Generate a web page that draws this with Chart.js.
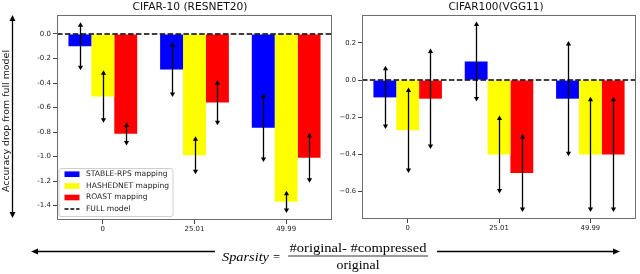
<!DOCTYPE html>
<html><head><meta charset="utf-8">
<script src="https://cdn.jsdelivr.net/npm/chart.js@4.4.1/dist/chart.umd.min.js"></script>
<style>
html,body{margin:0;padding:0;background:#fff;width:640px;height:274px;overflow:hidden}
#c1{position:absolute;left:0;top:0}
#c2{position:absolute;left:335px;top:0}
svg{position:absolute;left:0;top:0}
</style></head><body>
<canvas id="c1" width="335" height="240"></canvas>
<canvas id="c2" width="305" height="240"></canvas>
<svg width="640" height="274" xmlns="http://www.w3.org/2000/svg">
  <text x="190" y="10" text-anchor="middle" font-family="DejaVu Sans" font-size="10.5" fill="#111" textLength="115" lengthAdjust="spacingAndGlyphs">CIFAR-10 (RESNET20)</text>
  <text x="496" y="10" text-anchor="middle" font-family="DejaVu Sans" font-size="10.5" fill="#111" textLength="95" lengthAdjust="spacingAndGlyphs">CIFAR100(VGG11)</text>
  <text transform="translate(9,121) rotate(-90)" text-anchor="middle" font-family="DejaVu Sans" font-size="9.5" fill="#111" textLength="142" lengthAdjust="spacingAndGlyphs">Accuracy drop from full model</text>
  <line x1="12.5" y1="20" x2="12.5" y2="213" stroke="#000" stroke-width="1.3"/>
  <polygon points="12.5,15 9.5,21 15.5,21" fill="#000"/>
  <polygon points="12.5,218 9.5,212 15.5,212" fill="#000"/>
  <line x1="37" y1="251.5" x2="215" y2="251.5" stroke="#000" stroke-width="1.3"/>
  <polygon points="31,251.5 38,248.5 38,254.5" fill="#000"/>
  <line x1="437" y1="251.5" x2="614" y2="251.5" stroke="#000" stroke-width="1.3"/>
  <polygon points="620,251.5 613,248.5 613,254.5" fill="#000"/>
  <text x="222" y="261" font-family="Liberation Serif" font-size="12.5" font-style="italic" fill="#000" textLength="47" lengthAdjust="spacingAndGlyphs">Sparsity</text>
  <text x="273" y="261" font-family="Liberation Serif" font-size="12.5" fill="#000">=</text>
  <line x1="288" y1="256" x2="428" y2="256" stroke="#000" stroke-width="0.8"/>
  <text x="358" y="252" text-anchor="middle" font-family="Liberation Serif" font-size="11.5" fill="#000" textLength="137" lengthAdjust="spacingAndGlyphs">#original- #compressed</text>
  <text x="358" y="269" text-anchor="middle" font-family="Liberation Serif" font-size="11.5" fill="#000" textLength="43" lengthAdjust="spacingAndGlyphs">original</text>
</svg>
<script>
// ---- data ----
const sparsityLabels = ['0', '25.01', '49.99'];
const seriesNames = ['STABLE-RPS mapping', 'HASHEDNET mapping', 'ROAST mapping'];
const seriesColors = ['#0000ff', '#ffff00', '#ff0000'];
const refLineName = 'FULL model';

const c10Stable = [-0.10, -0.29, -0.765];
const c10StableErr = [0.195, 0.225, 0.28];
const c10Hashed = [-0.51, -0.99, -1.37];
const c10HashedErr = [0.215, 0.155, 0.09];
const c10Roast = [-0.815, -0.56, -1.01];
const c10RoastErr = [0.095, 0.185, 0.205];

const c100Stable = [-0.093, 0.10, -0.10];
const c100StableErr = [0.17, 0.215, 0.31];
const c100Hashed = [-0.27, -0.40, -0.40];
const c100HashedErr = [0.23, 0.21, 0.31];
const c100Roast = [-0.10, -0.50, -0.40];
const c100RoastErr = [0.27, 0.21, 0.31];

const c10Ticks = [0.0, -0.2, -0.4, -0.6, -0.8, -1.0, -1.2, -1.4];
const c10TickLabels = ['0.0', '-0.2', '-0.4', '-0.6', '-0.8', '-1.0', '-1.2', '-1.4'];
const c100Ticks = [0.2, 0.0, -0.2, -0.4, -0.6];
const c100TickLabels = ['0.2', '0.0', '\u22120.2', '\u22120.4', '\u22120.6'];

// ---- helpers ----
function drawArrowHead(ctx, x, y, dir) {
  const L = 4.5, W = 2.6;
  ctx.beginPath();
  ctx.moveTo(x, y);
  ctx.lineTo(x - W, y - dir * L);
  ctx.lineTo(x + W, y - dir * L);
  ctx.closePath();
  ctx.fill();
}

const annotPlugin = {
  id: 'annot',
  afterDatasetsDraw(chart, args, opts) {
    const ctx = chart.ctx, ys = chart.scales.y, ca = chart.chartArea;
    ctx.save();
    const y0 = ys.getPixelForValue(0);
    ctx.strokeStyle = '#000'; ctx.lineWidth = 1.5; ctx.setLineDash([5.5, 2.4]);
    ctx.beginPath(); ctx.moveTo(ca.left, y0); ctx.lineTo(ca.right, y0); ctx.stroke();
    ctx.setLineDash([]);
    ctx.fillStyle = '#000'; ctx.strokeStyle = '#000'; ctx.lineWidth = 1.3;
    chart.data.datasets.forEach((ds, i) => {
      const meta = chart.getDatasetMeta(i);
      meta.data.forEach((bar, j) => {
        const v = ds.data[j], e = ds.errors[j];
        const yt = ys.getPixelForValue(v + e), yb = ys.getPixelForValue(v - e);
        const x = Math.round(bar.x) + 0.5;
        ctx.beginPath(); ctx.moveTo(x, yt + 3); ctx.lineTo(x, yb - 3); ctx.stroke();
        drawArrowHead(ctx, x, yt, -1);
        drawArrowHead(ctx, x, yb, 1);
      });
    });
    ctx.restore();
  },
  afterDraw(chart, args, opts) {
    const ctx = chart.ctx, ca = chart.chartArea;
    ctx.save();
    ctx.strokeStyle = '#6e6e6e'; ctx.lineWidth = 1;
    ctx.strokeRect(Math.round(ca.left) + 0.5, Math.round(ca.top) + 0.5,
                   Math.round(ca.right - ca.left) - 1, Math.round(ca.bottom - ca.top) - 1);
    if (opts.legend) {
      const bx = ca.left + 1.5, by = ca.bottom - 52, bw = 114, bh = 48;
      ctx.fillStyle = 'rgba(255,255,255,0.85)';
      ctx.strokeStyle = '#cfcfcf'; ctx.lineWidth = 1;
      ctx.beginPath();
      if (ctx.roundRect) ctx.roundRect(bx + 0.5, by + 0.5, bw, bh, 2); else ctx.rect(bx + 0.5, by + 0.5, bw, bh);
      ctx.fill(); ctx.stroke();
      ctx.font = '7.6px "DejaVu Sans"'; ctx.textBaseline = 'middle'; ctx.textAlign = 'left';
      const rows = [by + 6.2, by + 18, by + 29.5, by + 41];
      chart.data.datasets.forEach((ds, i) => {
        ctx.fillStyle = ds.backgroundColor;
        ctx.fillRect(bx + 6, rows[i] - 2.8, 15, 5.6);
        ctx.fillStyle = '#222';
        ctx.fillText(ds.label, bx + 27.5, rows[i]);
      });
      ctx.strokeStyle = '#000'; ctx.lineWidth = 1.5; ctx.setLineDash([4, 1.8]);
      ctx.beginPath(); ctx.moveTo(bx + 6, rows[3]); ctx.lineTo(bx + 21, rows[3]); ctx.stroke();
      ctx.setLineDash([]);
      ctx.fillStyle = '#222';
      ctx.fillText(refLineName, bx + 27.5, rows[3]);
    }
    ctx.restore();
  }
};

function makeChart(id, vals, errs, yMin, yMax, ticks, tickLabels, yWidth, padRight, xHeight, legend, tickFont) {
  const datasets = vals.map((d, i) => ({
    label: seriesNames[i], data: d, errors: errs[i],
    backgroundColor: seriesColors[i], borderWidth: 0,
    barPercentage: 1.0, categoryPercentage: 0.75
  }));
  return new Chart(document.getElementById(id), {
    type: 'bar',
    data: { labels: sparsityLabels, datasets },
    plugins: [annotPlugin],
    options: {
      responsive: false, animation: false, devicePixelRatio: 1,
      layout: { padding: { top: 15, right: padRight, left: 0, bottom: 0 } },
      plugins: { legend: { display: false }, tooltip: { enabled: false }, annot: { legend } },
      scales: {
        x: {
          offset: true,
          grid: { offset: false, drawOnChartArea: false, drawTicks: true, tickLength: 4, color: '#444' },
          border: { display: false },
          ticks: { font: { family: 'DejaVu Sans', size: tickFont }, color: '#222', padding: 1, maxRotation: 0, autoSkip: false },
          afterFit: s => { s.height = xHeight; }
        },
        y: {
          min: yMin, max: yMax,
          grid: { drawOnChartArea: false, drawTicks: true, tickLength: 4, color: '#444' },
          border: { display: false },
          afterBuildTicks: s => { s.ticks = ticks.map(v => ({ value: v })); },
          ticks: { font: { family: 'DejaVu Sans', size: tickFont }, color: '#222', padding: 2, autoSkip: false,
                   callback: (v, idx) => tickLabels[idx] },
          afterFit: s => { s.width = yWidth; }
        }
      }
    }
  });
}

makeChart('c1', [c10Stable, c10Hashed, c10Roast], [c10StableErr, c10HashedErr, c10RoastErr],
          -1.518, 0.155, c10Ticks, c10TickLabels, 57, 3, 20, true, 7);
makeChart('c2', [c100Stable, c100Hashed, c100Roast], [c100StableErr, c100HashedErr, c100RoastErr],
          -0.747, 0.35, c100Ticks, c100TickLabels, 27, 4, 21, false, 6.8);
</script>
</body></html>
